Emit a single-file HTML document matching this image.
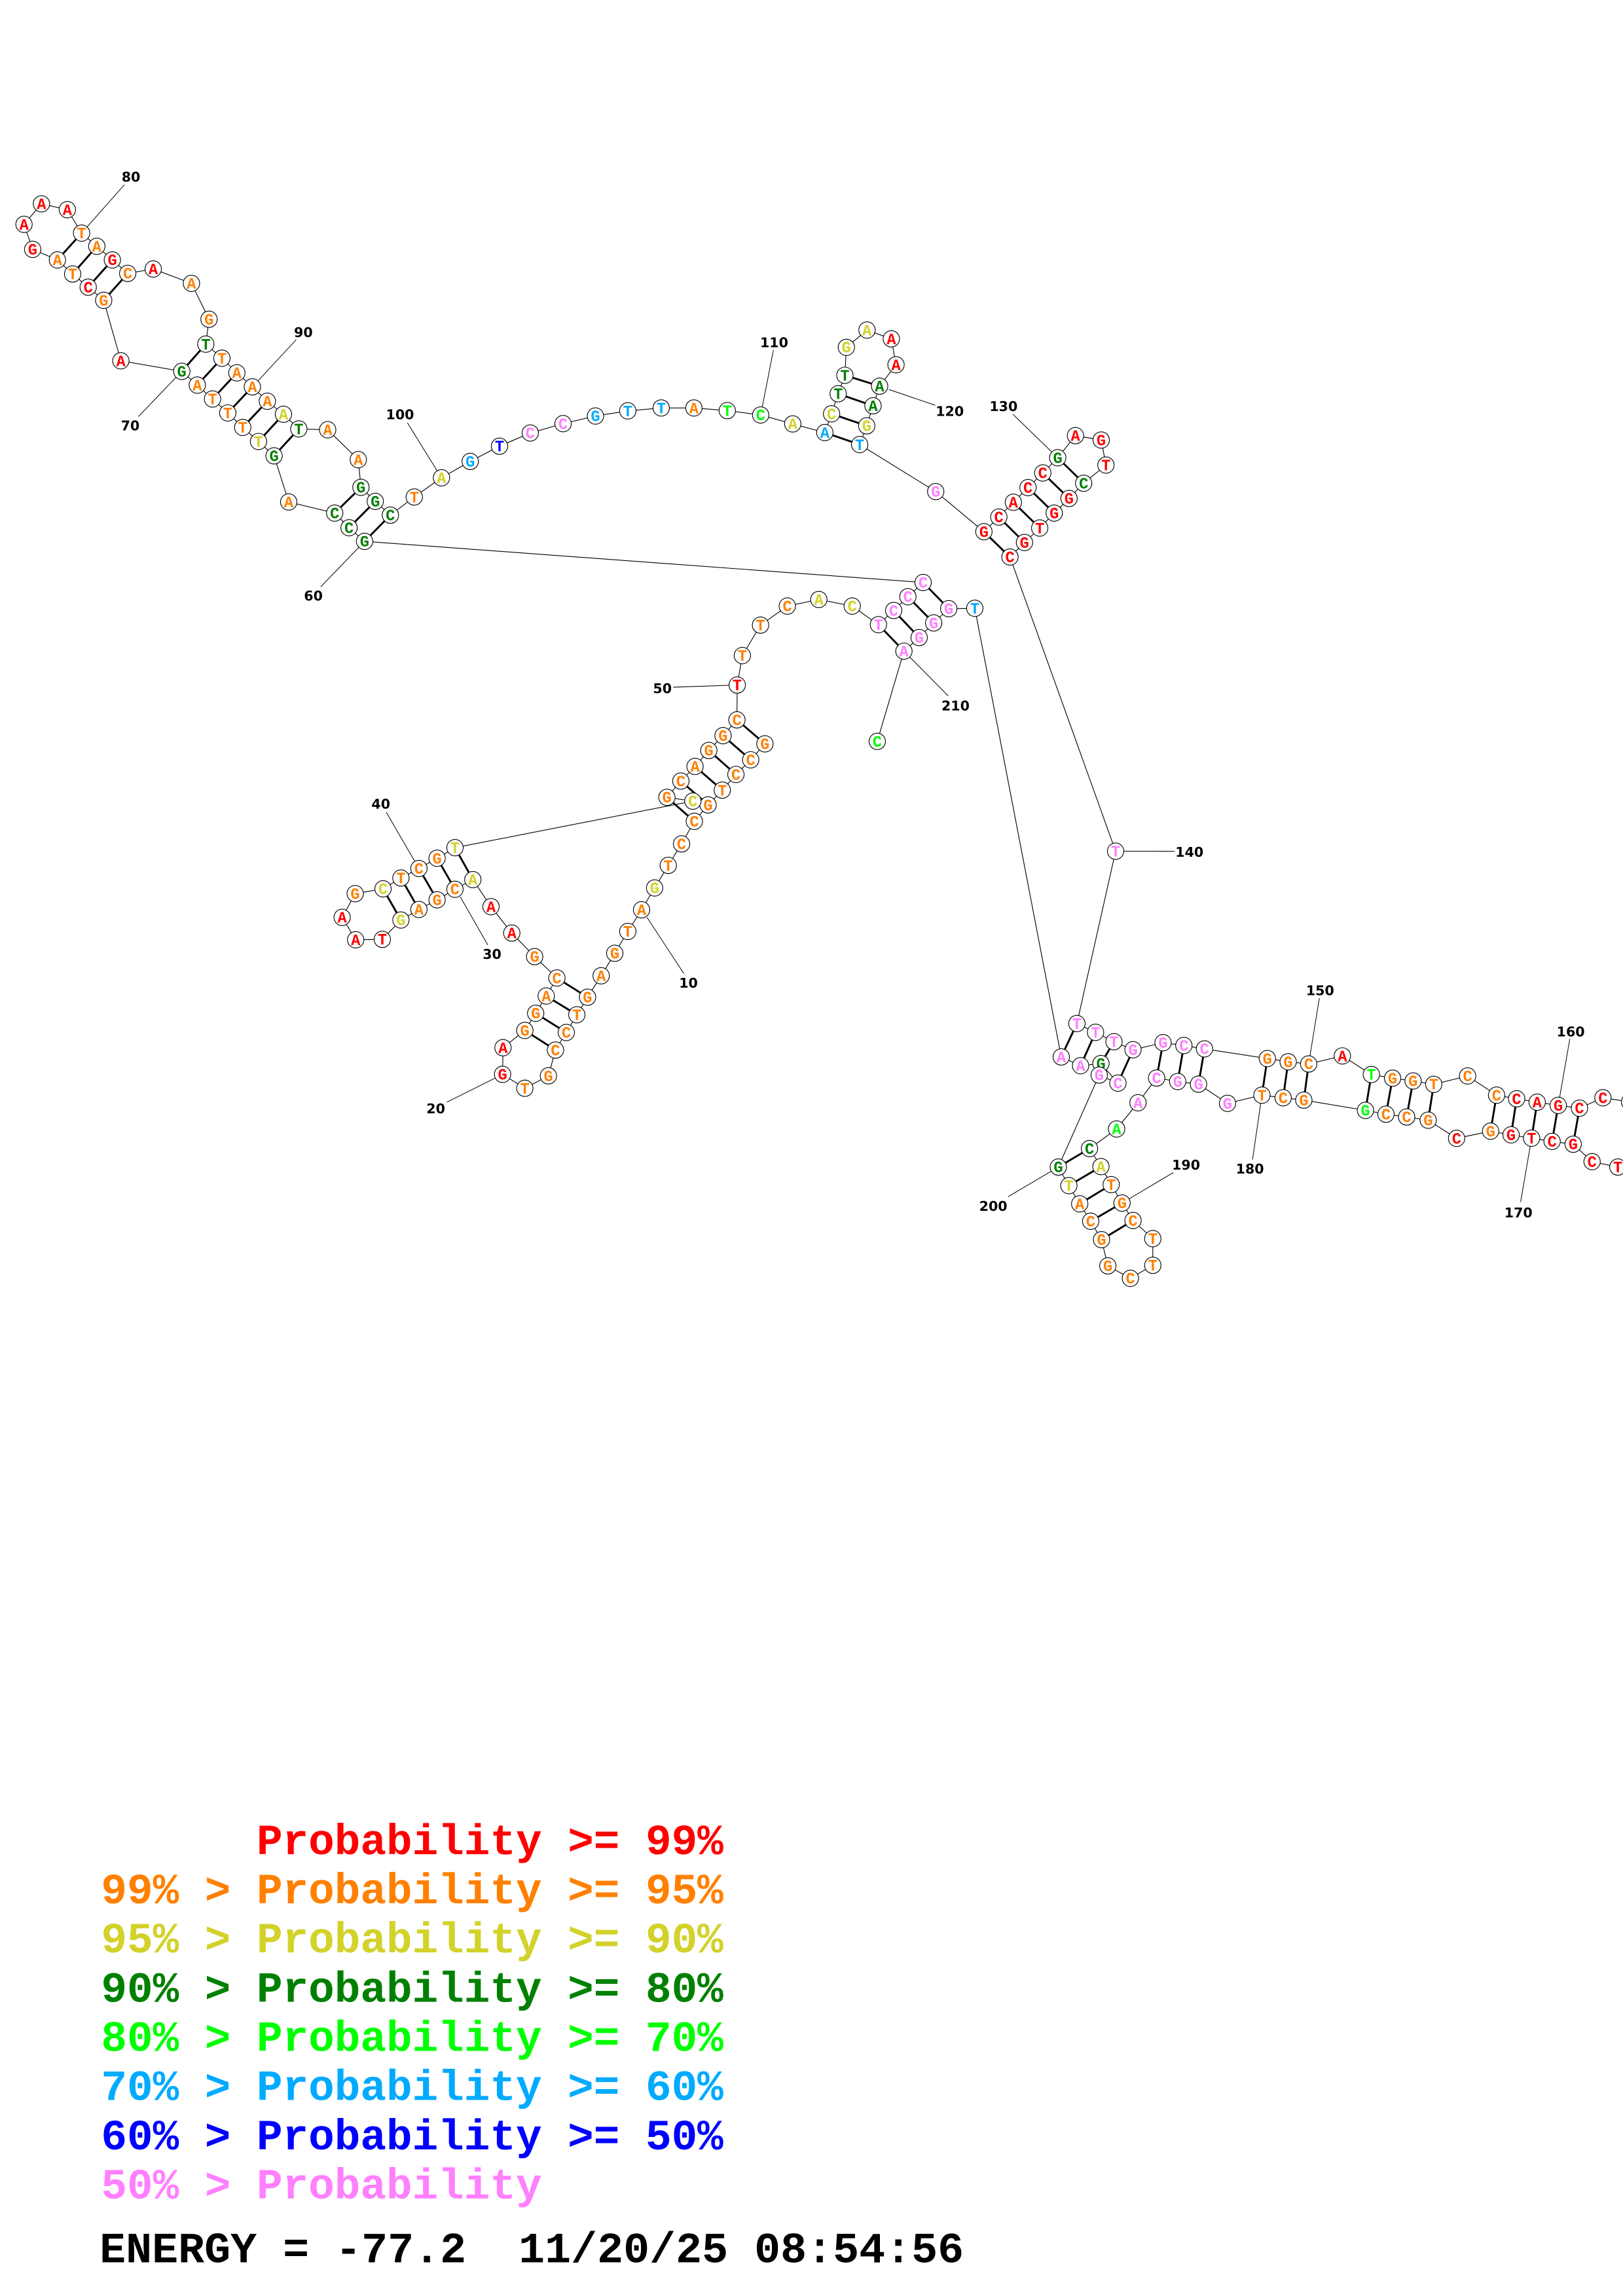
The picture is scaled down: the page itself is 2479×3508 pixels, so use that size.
<!DOCTYPE html>
<html><head><meta charset="utf-8"><style>
html,body{margin:0;padding:0;background:#fff}
svg{display:block}
.bb{fill:none;stroke:#000;stroke-width:0.5}
.pr{stroke:#000;stroke-width:1.3;fill:none}
.ll{stroke:#000;stroke-width:0.45;fill:none}
circle{fill:#fff;stroke:#000;stroke-width:0.5}
.n text{font-family:"Liberation Mono",monospace;font-weight:bold;font-size:10.6px;text-anchor:middle}
.lb text{font-family:"DejaVu Sans","Liberation Sans",sans-serif;font-weight:bold;font-size:9.2px;text-anchor:middle;fill:#000}
.lg text{font-family:"Liberation Mono",monospace;font-weight:bold;font-size:29.5px;white-space:pre}
.r{fill:#ff0000}.o{fill:#ff8000}.y{fill:#d2d22a}.g{fill:#008000}.G{fill:#00ff00}.b{fill:#00aaff}.B{fill:#0000ff}.p{fill:#ff80ff}.k{fill:#000}
</style></head><body>
<svg xmlns="http://www.w3.org/2000/svg" width="2479" height="3508" viewBox="0 0 1108 1568" preserveAspectRatio="none">
<rect x="0" y="0" width="1108" height="1568" fill="#fff"/>

<path class="ll" d="M441.7,626.5L466.8,664.8 M305.1,752.7L343.1,733.7 M314.3,612.6L333,645.3 M263.7,554.7L286,593.1 M459.6,469.3L503.3,467.8 M219,400.7L248.9,369.7 M94.5,284.5L124.1,253.6 M84.9,126.2L55.7,159.2 M202.2,232L172.3,264.2 M278.1,288.7L301.4,326.3 M528,239.1L519.3,283.4 M606.9,266L638.5,276.8 M691.4,282.8L722.1,312.6 M767.3,581.3L801.9,581.4 M900.7,681.6L893.4,726.6 M1071.7,709.5L1063.8,754.9 M1038.1,820.9L1045.6,777.3 M855.1,791.8L861.5,747.9 M801,800.8L766,821.6 M688.3,817.2L722.5,797 M647.4,475.3L617.1,444.7"/>

<polyline class="bb" points="522.2,508 512.5,518.9 502.4,528.9 493.1,539.6 483.4,549.7 474,560.9 465.3,576.3 456.2,591 446.9,606.4 438,621.3 428.6,636.1 419.7,651 410.4,666.4 401.1,681 393.8,693 386.6,705.1 379.2,717.1 374.4,734.7 358.3,743.2 343.1,733.7 343.4,715.5 358.3,703.7 365.7,692 372.9,680.2 380.2,667.9 365,653.3 349.4,637.2 335.2,619.2 322.8,600.7 310.6,607.3 298.4,614.5 286,621.1 273.7,628.3 261,641.5 242.8,641.8 233.6,626.5 242.5,610.3 261.5,607 273.7,599.6 286,593.1 298.4,586.1 310.6,578.9 473,547.1 455.3,544.5 464.8,533.4 474.5,523.4 483.9,512.5 493.6,502.4 503.1,491.6 503.3,467.8 506.8,447.7 519.2,426.9 537.5,413.9 559,409.4 581.8,413.9 599.7,426.6 610.1,416.9 619.8,407.5 630.2,397.8 248.9,369.7 238.3,360.4 228.5,350.4 197.1,342.8 187.1,311.3 176.5,301.5 165.7,291.9 155.5,282 145.1,272.5 134.7,263 124.1,253.6 82.5,246.4 70.8,205.1 60.2,196.1 49.6,187.1 39.2,177.5 22.3,170.3 16.4,153.2 28.3,139.2 46,143.2 55.7,159.2 66.1,168.2 76.7,177.5 87.2,186.7 104.6,183.7 130.7,193.5 142.7,218 140.5,235 151.5,244.6 161.7,254.6 172.3,264.2 182.5,274 193.5,282.9 204,292.9 223.7,293.5 244.6,313.9 246.4,332.8 256.2,342.4 266.5,351.8 282.8,339.4 301.4,326.3 321,315.1 341,304.7 362,295.7 384.4,289.3 406.5,284.1 428.6,280.6 451.4,278.6 473.7,278.6 496.5,280.4 519.3,283.4 541.2,289.5 563.1,295.4 567.7,282.6 572.2,268.9 576.8,256.3 577.8,237.2 591.9,225.4 608.5,231.4 611.7,249.1 600.5,263.7 596,277.1 591.7,290.8 586.9,303.6 638.8,335.7 671.7,363.1 681.9,353.1 691.8,343 701.8,333 711.9,323 722.1,312.6 734.2,297.5 751.8,300.5 755,317.6 739.8,330 729.8,340.4 719.7,350.4 709.8,360.6 699.4,370.5 689.5,380.4 761.6,581.3 735.2,699 747.9,705 760.5,711.4 773.5,716.9 794,712.1 808.2,714 822.3,716.3 865.2,722.9 879.4,725.1 893.4,726.6 916.4,721.1 936.2,733.8 950.7,736.3 964.7,738.2 978.8,740.5 1001.9,734.8 1021.7,747.9 1035.4,750.4 1049.4,752.7 1063.8,754.9 1078.3,756.8 1094.3,749.7 1112.5,752.5 1128,748 1126,800 1104.5,797 1086.9,793.3 1074,781.4 1059.6,779.5 1045.6,777.3 1031.6,775 1017.6,772.5 994.4,777.4 975,765 960.3,762.8 946.2,760.9 932.2,758.3 890.1,751.3 876,749.7 861.5,747.9 838,753.5 818.2,740.4 804,738.6 789.6,736.2 776.9,753.1 762.3,771 743.8,784.4 751.6,796.7 758.6,809 766,821.6 773.5,833.5 787,845.9 787,864.1 771.7,873 756.3,864.5 752,846.6 744.6,834 737.1,822.1 729.7,809.7 722.5,797 750.4,734.2 763.2,739.7 751.6,726.3 737.7,727.8 724.5,721.8 665.5,415.4 647.7,415.7 637.4,425.4 627.5,435.4 617.1,444.7 598.9,506.3"/>

<path class="pr" d="M522.2,508L503.1,491.6 M512.5,518.9L493.6,502.4 M502.4,528.9L483.9,512.5 M493.1,539.6L474.5,523.4 M483.4,549.7L464.8,533.4 M474,560.9L455.3,544.5 M401.1,681L380.2,667.9 M393.8,693L372.9,680.2 M386.6,705.1L365.7,692 M379.2,717.1L358.3,703.7 M322.8,600.7L310.6,578.9 M310.6,607.3L298.4,586.1 M298.4,614.5L286,593.1 M286,621.1L273.7,599.6 M273.7,628.3L261.5,607 M599.7,426.6L617.1,444.7 M610.1,416.9L627.5,435.4 M619.8,407.5L637.4,425.4 M630.2,397.8L647.7,415.7 M248.9,369.7L266.5,351.8 M238.3,360.4L256.2,342.4 M228.5,350.4L246.4,332.8 M187.1,311.3L204,292.9 M176.5,301.5L193.5,282.9 M165.7,291.9L182.5,274 M155.5,282L172.3,264.2 M145.1,272.5L161.7,254.6 M134.7,263L151.5,244.6 M124.1,253.6L140.5,235 M70.8,205.1L87.2,186.7 M60.2,196.1L76.7,177.5 M49.6,187.1L66.1,168.2 M39.2,177.5L55.7,159.2 M563.1,295.4L586.9,303.6 M567.7,282.6L591.7,290.8 M572.2,268.9L596,277.1 M576.8,256.3L600.5,263.7 M671.7,363.1L689.5,380.4 M681.9,353.1L699.4,370.5 M691.8,343L709.8,360.6 M701.8,333L719.7,350.4 M711.9,323L729.8,340.4 M722.1,312.6L739.8,330 M735.2,699L724.5,721.8 M747.9,705L737.7,727.8 M760.5,711.4L751.6,726.3 M773.5,716.9L763.2,739.7 M794,712.1L789.6,736.2 M808.2,714L804,738.6 M822.3,716.3L818.2,740.4 M865.2,722.9L861.5,747.9 M879.4,725.1L876,749.7 M893.4,726.6L890.1,751.3 M936.2,733.8L932.2,758.3 M950.7,736.3L946.2,760.9 M964.7,738.2L960.3,762.8 M978.8,740.5L975,765 M1021.7,747.9L1017.6,772.5 M1035.4,750.4L1031.6,775 M1049.4,752.7L1045.6,777.3 M1063.8,754.9L1059.6,779.5 M1078.3,756.8L1074,781.4 M743.8,784.4L722.5,797 M751.6,796.7L729.7,809.7 M758.6,809L737.1,822.1 M766,821.6L744.6,834 M773.5,833.5L752,846.6"/>

<g class="n">
<circle cx="522.2" cy="508" r="5.6"/><text x="522.2" y="511.6" class="o">G</text>
<circle cx="512.5" cy="518.9" r="5.6"/><text x="512.5" y="522.5" class="o">C</text>
<circle cx="502.4" cy="528.9" r="5.6"/><text x="502.4" y="532.5" class="o">C</text>
<circle cx="493.1" cy="539.6" r="5.6"/><text x="493.1" y="543.2" class="o">T</text>
<circle cx="483.4" cy="549.7" r="5.6"/><text x="483.4" y="553.3" class="o">G</text>
<circle cx="474" cy="560.9" r="5.6"/><text x="474" y="564.5" class="o">C</text>
<circle cx="465.3" cy="576.3" r="5.6"/><text x="465.3" y="579.9" class="o">C</text>
<circle cx="456.2" cy="591" r="5.6"/><text x="456.2" y="594.6" class="o">T</text>
<circle cx="446.9" cy="606.4" r="5.6"/><text x="446.9" y="610" class="y">G</text>
<circle cx="438" cy="621.3" r="5.6"/><text x="438" y="624.9" class="o">A</text>
<circle cx="428.6" cy="636.1" r="5.6"/><text x="428.6" y="639.7" class="o">T</text>
<circle cx="419.7" cy="651" r="5.6"/><text x="419.7" y="654.6" class="o">G</text>
<circle cx="410.4" cy="666.4" r="5.6"/><text x="410.4" y="670" class="o">A</text>
<circle cx="401.1" cy="681" r="5.6"/><text x="401.1" y="684.6" class="o">G</text>
<circle cx="393.8" cy="693" r="5.6"/><text x="393.8" y="696.6" class="o">T</text>
<circle cx="386.6" cy="705.1" r="5.6"/><text x="386.6" y="708.7" class="o">C</text>
<circle cx="379.2" cy="717.1" r="5.6"/><text x="379.2" y="720.7" class="o">C</text>
<circle cx="374.4" cy="734.7" r="5.6"/><text x="374.4" y="738.3" class="o">G</text>
<circle cx="358.3" cy="743.2" r="5.6"/><text x="358.3" y="746.8" class="o">T</text>
<circle cx="343.1" cy="733.7" r="5.6"/><text x="343.1" y="737.3" class="r">G</text>
<circle cx="343.4" cy="715.5" r="5.6"/><text x="343.4" y="719.1" class="r">A</text>
<circle cx="358.3" cy="703.7" r="5.6"/><text x="358.3" y="707.3" class="o">G</text>
<circle cx="365.7" cy="692" r="5.6"/><text x="365.7" y="695.6" class="o">G</text>
<circle cx="372.9" cy="680.2" r="5.6"/><text x="372.9" y="683.8" class="o">A</text>
<circle cx="380.2" cy="667.9" r="5.6"/><text x="380.2" y="671.5" class="o">C</text>
<circle cx="365" cy="653.3" r="5.6"/><text x="365" y="656.9" class="o">G</text>
<circle cx="349.4" cy="637.2" r="5.6"/><text x="349.4" y="640.8" class="r">A</text>
<circle cx="335.2" cy="619.2" r="5.6"/><text x="335.2" y="622.8" class="r">A</text>
<circle cx="322.8" cy="600.7" r="5.6"/><text x="322.8" y="604.3" class="y">A</text>
<circle cx="310.6" cy="607.3" r="5.6"/><text x="310.6" y="610.9" class="o">C</text>
<circle cx="298.4" cy="614.5" r="5.6"/><text x="298.4" y="618.1" class="o">G</text>
<circle cx="286" cy="621.1" r="5.6"/><text x="286" y="624.7" class="o">A</text>
<circle cx="273.7" cy="628.3" r="5.6"/><text x="273.7" y="631.9" class="y">G</text>
<circle cx="261" cy="641.5" r="5.6"/><text x="261" y="645.1" class="r">T</text>
<circle cx="242.8" cy="641.8" r="5.6"/><text x="242.8" y="645.4" class="r">A</text>
<circle cx="233.6" cy="626.5" r="5.6"/><text x="233.6" y="630.1" class="r">A</text>
<circle cx="242.5" cy="610.3" r="5.6"/><text x="242.5" y="613.9" class="o">G</text>
<circle cx="261.5" cy="607" r="5.6"/><text x="261.5" y="610.6" class="y">C</text>
<circle cx="273.7" cy="599.6" r="5.6"/><text x="273.7" y="603.2" class="o">T</text>
<circle cx="286" cy="593.1" r="5.6"/><text x="286" y="596.7" class="o">C</text>
<circle cx="298.4" cy="586.1" r="5.6"/><text x="298.4" y="589.7" class="o">G</text>
<circle cx="310.6" cy="578.9" r="5.6"/><text x="310.6" y="582.5" class="y">T</text>
<circle cx="473" cy="547.1" r="5.6"/><text x="473" y="550.7" class="y">C</text>
<circle cx="455.3" cy="544.5" r="5.6"/><text x="455.3" y="548.1" class="o">G</text>
<circle cx="464.8" cy="533.4" r="5.6"/><text x="464.8" y="537" class="o">C</text>
<circle cx="474.5" cy="523.4" r="5.6"/><text x="474.5" y="527" class="o">A</text>
<circle cx="483.9" cy="512.5" r="5.6"/><text x="483.9" y="516.1" class="o">G</text>
<circle cx="493.6" cy="502.4" r="5.6"/><text x="493.6" y="506" class="o">G</text>
<circle cx="503.1" cy="491.6" r="5.6"/><text x="503.1" y="495.2" class="o">C</text>
<circle cx="503.3" cy="467.8" r="5.6"/><text x="503.3" y="471.4" class="r">T</text>
<circle cx="506.8" cy="447.7" r="5.6"/><text x="506.8" y="451.3" class="o">T</text>
<circle cx="519.2" cy="426.9" r="5.6"/><text x="519.2" y="430.5" class="o">T</text>
<circle cx="537.5" cy="413.9" r="5.6"/><text x="537.5" y="417.5" class="o">C</text>
<circle cx="559" cy="409.4" r="5.6"/><text x="559" y="413" class="y">A</text>
<circle cx="581.8" cy="413.9" r="5.6"/><text x="581.8" y="417.5" class="y">C</text>
<circle cx="599.7" cy="426.6" r="5.6"/><text x="599.7" y="430.2" class="p">T</text>
<circle cx="610.1" cy="416.9" r="5.6"/><text x="610.1" y="420.5" class="p">C</text>
<circle cx="619.8" cy="407.5" r="5.6"/><text x="619.8" y="411.1" class="p">C</text>
<circle cx="630.2" cy="397.8" r="5.6"/><text x="630.2" y="401.4" class="p">C</text>
<circle cx="248.9" cy="369.7" r="5.6"/><text x="248.9" y="373.3" class="g">G</text>
<circle cx="238.3" cy="360.4" r="5.6"/><text x="238.3" y="364" class="g">C</text>
<circle cx="228.5" cy="350.4" r="5.6"/><text x="228.5" y="354" class="g">C</text>
<circle cx="197.1" cy="342.8" r="5.6"/><text x="197.1" y="346.4" class="o">A</text>
<circle cx="187.1" cy="311.3" r="5.6"/><text x="187.1" y="314.9" class="g">G</text>
<circle cx="176.5" cy="301.5" r="5.6"/><text x="176.5" y="305.1" class="y">T</text>
<circle cx="165.7" cy="291.9" r="5.6"/><text x="165.7" y="295.5" class="o">T</text>
<circle cx="155.5" cy="282" r="5.6"/><text x="155.5" y="285.6" class="o">T</text>
<circle cx="145.1" cy="272.5" r="5.6"/><text x="145.1" y="276.1" class="o">T</text>
<circle cx="134.7" cy="263" r="5.6"/><text x="134.7" y="266.6" class="o">A</text>
<circle cx="124.1" cy="253.6" r="5.6"/><text x="124.1" y="257.2" class="g">G</text>
<circle cx="82.5" cy="246.4" r="5.6"/><text x="82.5" y="250" class="r">A</text>
<circle cx="70.8" cy="205.1" r="5.6"/><text x="70.8" y="208.7" class="o">G</text>
<circle cx="60.2" cy="196.1" r="5.6"/><text x="60.2" y="199.7" class="r">C</text>
<circle cx="49.6" cy="187.1" r="5.6"/><text x="49.6" y="190.7" class="o">T</text>
<circle cx="39.2" cy="177.5" r="5.6"/><text x="39.2" y="181.1" class="o">A</text>
<circle cx="22.3" cy="170.3" r="5.6"/><text x="22.3" y="173.9" class="r">G</text>
<circle cx="16.4" cy="153.2" r="5.6"/><text x="16.4" y="156.8" class="r">A</text>
<circle cx="28.3" cy="139.2" r="5.6"/><text x="28.3" y="142.8" class="r">A</text>
<circle cx="46" cy="143.2" r="5.6"/><text x="46" y="146.8" class="r">A</text>
<circle cx="55.7" cy="159.2" r="5.6"/><text x="55.7" y="162.8" class="o">T</text>
<circle cx="66.1" cy="168.2" r="5.6"/><text x="66.1" y="171.8" class="o">A</text>
<circle cx="76.7" cy="177.5" r="5.6"/><text x="76.7" y="181.1" class="r">G</text>
<circle cx="87.2" cy="186.7" r="5.6"/><text x="87.2" y="190.3" class="o">C</text>
<circle cx="104.6" cy="183.7" r="5.6"/><text x="104.6" y="187.3" class="r">A</text>
<circle cx="130.7" cy="193.5" r="5.6"/><text x="130.7" y="197.1" class="o">A</text>
<circle cx="142.7" cy="218" r="5.6"/><text x="142.7" y="221.6" class="o">G</text>
<circle cx="140.5" cy="235" r="5.6"/><text x="140.5" y="238.6" class="g">T</text>
<circle cx="151.5" cy="244.6" r="5.6"/><text x="151.5" y="248.2" class="o">T</text>
<circle cx="161.7" cy="254.6" r="5.6"/><text x="161.7" y="258.2" class="o">A</text>
<circle cx="172.3" cy="264.2" r="5.6"/><text x="172.3" y="267.8" class="o">A</text>
<circle cx="182.5" cy="274" r="5.6"/><text x="182.5" y="277.6" class="o">A</text>
<circle cx="193.5" cy="282.9" r="5.6"/><text x="193.5" y="286.5" class="y">A</text>
<circle cx="204" cy="292.9" r="5.6"/><text x="204" y="296.5" class="g">T</text>
<circle cx="223.7" cy="293.5" r="5.6"/><text x="223.7" y="297.1" class="o">A</text>
<circle cx="244.6" cy="313.9" r="5.6"/><text x="244.6" y="317.5" class="o">A</text>
<circle cx="246.4" cy="332.8" r="5.6"/><text x="246.4" y="336.4" class="g">G</text>
<circle cx="256.2" cy="342.4" r="5.6"/><text x="256.2" y="346" class="g">G</text>
<circle cx="266.5" cy="351.8" r="5.6"/><text x="266.5" y="355.4" class="g">C</text>
<circle cx="282.8" cy="339.4" r="5.6"/><text x="282.8" y="343" class="o">T</text>
<circle cx="301.4" cy="326.3" r="5.6"/><text x="301.4" y="329.9" class="y">A</text>
<circle cx="321" cy="315.1" r="5.6"/><text x="321" y="318.7" class="b">G</text>
<circle cx="341" cy="304.7" r="5.6"/><text x="341" y="308.3" class="B">T</text>
<circle cx="362" cy="295.7" r="5.6"/><text x="362" y="299.3" class="p">C</text>
<circle cx="384.4" cy="289.3" r="5.6"/><text x="384.4" y="292.9" class="p">C</text>
<circle cx="406.5" cy="284.1" r="5.6"/><text x="406.5" y="287.7" class="b">G</text>
<circle cx="428.6" cy="280.6" r="5.6"/><text x="428.6" y="284.2" class="b">T</text>
<circle cx="451.4" cy="278.6" r="5.6"/><text x="451.4" y="282.2" class="b">T</text>
<circle cx="473.7" cy="278.6" r="5.6"/><text x="473.7" y="282.2" class="o">A</text>
<circle cx="496.5" cy="280.4" r="5.6"/><text x="496.5" y="284" class="G">T</text>
<circle cx="519.3" cy="283.4" r="5.6"/><text x="519.3" y="287" class="G">C</text>
<circle cx="541.2" cy="289.5" r="5.6"/><text x="541.2" y="293.1" class="y">A</text>
<circle cx="563.1" cy="295.4" r="5.6"/><text x="563.1" y="299" class="b">A</text>
<circle cx="567.7" cy="282.6" r="5.6"/><text x="567.7" y="286.2" class="y">C</text>
<circle cx="572.2" cy="268.9" r="5.6"/><text x="572.2" y="272.5" class="g">T</text>
<circle cx="576.8" cy="256.3" r="5.6"/><text x="576.8" y="259.9" class="g">T</text>
<circle cx="577.8" cy="237.2" r="5.6"/><text x="577.8" y="240.8" class="y">G</text>
<circle cx="591.9" cy="225.4" r="5.6"/><text x="591.9" y="229" class="y">A</text>
<circle cx="608.5" cy="231.4" r="5.6"/><text x="608.5" y="235" class="r">A</text>
<circle cx="611.7" cy="249.1" r="5.6"/><text x="611.7" y="252.7" class="r">A</text>
<circle cx="600.5" cy="263.7" r="5.6"/><text x="600.5" y="267.3" class="g">A</text>
<circle cx="596" cy="277.1" r="5.6"/><text x="596" y="280.7" class="g">A</text>
<circle cx="591.7" cy="290.8" r="5.6"/><text x="591.7" y="294.4" class="y">G</text>
<circle cx="586.9" cy="303.6" r="5.6"/><text x="586.9" y="307.2" class="b">T</text>
<circle cx="638.8" cy="335.7" r="5.6"/><text x="638.8" y="339.3" class="p">G</text>
<circle cx="671.7" cy="363.1" r="5.6"/><text x="671.7" y="366.7" class="r">G</text>
<circle cx="681.9" cy="353.1" r="5.6"/><text x="681.9" y="356.7" class="r">C</text>
<circle cx="691.8" cy="343" r="5.6"/><text x="691.8" y="346.6" class="r">A</text>
<circle cx="701.8" cy="333" r="5.6"/><text x="701.8" y="336.6" class="r">C</text>
<circle cx="711.9" cy="323" r="5.6"/><text x="711.9" y="326.6" class="r">C</text>
<circle cx="722.1" cy="312.6" r="5.6"/><text x="722.1" y="316.2" class="g">G</text>
<circle cx="734.2" cy="297.5" r="5.6"/><text x="734.2" y="301.1" class="r">A</text>
<circle cx="751.8" cy="300.5" r="5.6"/><text x="751.8" y="304.1" class="r">G</text>
<circle cx="755" cy="317.6" r="5.6"/><text x="755" y="321.2" class="r">T</text>
<circle cx="739.8" cy="330" r="5.6"/><text x="739.8" y="333.6" class="g">C</text>
<circle cx="729.8" cy="340.4" r="5.6"/><text x="729.8" y="344" class="r">G</text>
<circle cx="719.7" cy="350.4" r="5.6"/><text x="719.7" y="354" class="r">G</text>
<circle cx="709.8" cy="360.6" r="5.6"/><text x="709.8" y="364.2" class="r">T</text>
<circle cx="699.4" cy="370.5" r="5.6"/><text x="699.4" y="374.1" class="r">G</text>
<circle cx="689.5" cy="380.4" r="5.6"/><text x="689.5" y="384" class="r">C</text>
<circle cx="761.6" cy="581.3" r="5.6"/><text x="761.6" y="584.9" class="p">T</text>
<circle cx="735.2" cy="699" r="5.6"/><text x="735.2" y="702.6" class="p">T</text>
<circle cx="747.9" cy="705" r="5.6"/><text x="747.9" y="708.6" class="p">T</text>
<circle cx="760.5" cy="711.4" r="5.6"/><text x="760.5" y="715" class="p">T</text>
<circle cx="773.5" cy="716.9" r="5.6"/><text x="773.5" y="720.5" class="p">G</text>
<circle cx="794" cy="712.1" r="5.6"/><text x="794" y="715.7" class="p">G</text>
<circle cx="808.2" cy="714" r="5.6"/><text x="808.2" y="717.6" class="p">C</text>
<circle cx="822.3" cy="716.3" r="5.6"/><text x="822.3" y="719.9" class="p">C</text>
<circle cx="865.2" cy="722.9" r="5.6"/><text x="865.2" y="726.5" class="o">G</text>
<circle cx="879.4" cy="725.1" r="5.6"/><text x="879.4" y="728.7" class="o">G</text>
<circle cx="893.4" cy="726.6" r="5.6"/><text x="893.4" y="730.2" class="o">C</text>
<circle cx="916.4" cy="721.1" r="5.6"/><text x="916.4" y="724.7" class="r">A</text>
<circle cx="936.2" cy="733.8" r="5.6"/><text x="936.2" y="737.4" class="G">T</text>
<circle cx="950.7" cy="736.3" r="5.6"/><text x="950.7" y="739.9" class="o">G</text>
<circle cx="964.7" cy="738.2" r="5.6"/><text x="964.7" y="741.8" class="o">G</text>
<circle cx="978.8" cy="740.5" r="5.6"/><text x="978.8" y="744.1" class="o">T</text>
<circle cx="1001.9" cy="734.8" r="5.6"/><text x="1001.9" y="738.4" class="o">C</text>
<circle cx="1021.7" cy="747.9" r="5.6"/><text x="1021.7" y="751.5" class="o">C</text>
<circle cx="1035.4" cy="750.4" r="5.6"/><text x="1035.4" y="754" class="r">C</text>
<circle cx="1049.4" cy="752.7" r="5.6"/><text x="1049.4" y="756.3" class="r">A</text>
<circle cx="1063.8" cy="754.9" r="5.6"/><text x="1063.8" y="758.5" class="r">G</text>
<circle cx="1078.3" cy="756.8" r="5.6"/><text x="1078.3" y="760.4" class="r">C</text>
<circle cx="1094.3" cy="749.7" r="5.6"/><text x="1094.3" y="753.3" class="r">C</text>
<circle cx="1112.5" cy="752.5" r="5.6"/><text x="1112.5" y="756.1" class="r">C</text>
<circle cx="1104.5" cy="797" r="5.6"/><text x="1104.5" y="800.6" class="r">T</text>
<circle cx="1086.9" cy="793.3" r="5.6"/><text x="1086.9" y="796.9" class="r">C</text>
<circle cx="1074" cy="781.4" r="5.6"/><text x="1074" y="785" class="r">G</text>
<circle cx="1059.6" cy="779.5" r="5.6"/><text x="1059.6" y="783.1" class="r">C</text>
<circle cx="1045.6" cy="777.3" r="5.6"/><text x="1045.6" y="780.9" class="r">T</text>
<circle cx="1031.6" cy="775" r="5.6"/><text x="1031.6" y="778.6" class="r">G</text>
<circle cx="1017.6" cy="772.5" r="5.6"/><text x="1017.6" y="776.1" class="o">G</text>
<circle cx="994.4" cy="777.4" r="5.6"/><text x="994.4" y="781" class="r">C</text>
<circle cx="975" cy="765" r="5.6"/><text x="975" y="768.6" class="o">G</text>
<circle cx="960.3" cy="762.8" r="5.6"/><text x="960.3" y="766.4" class="o">C</text>
<circle cx="946.2" cy="760.9" r="5.6"/><text x="946.2" y="764.5" class="o">C</text>
<circle cx="932.2" cy="758.3" r="5.6"/><text x="932.2" y="761.9" class="G">G</text>
<circle cx="890.1" cy="751.3" r="5.6"/><text x="890.1" y="754.9" class="o">G</text>
<circle cx="876" cy="749.7" r="5.6"/><text x="876" y="753.3" class="o">C</text>
<circle cx="861.5" cy="747.9" r="5.6"/><text x="861.5" y="751.5" class="o">T</text>
<circle cx="838" cy="753.5" r="5.6"/><text x="838" y="757.1" class="p">G</text>
<circle cx="818.2" cy="740.4" r="5.6"/><text x="818.2" y="744" class="p">G</text>
<circle cx="804" cy="738.6" r="5.6"/><text x="804" y="742.2" class="p">G</text>
<circle cx="789.6" cy="736.2" r="5.6"/><text x="789.6" y="739.8" class="p">C</text>
<circle cx="776.9" cy="753.1" r="5.6"/><text x="776.9" y="756.7" class="p">A</text>
<circle cx="762.3" cy="771" r="5.6"/><text x="762.3" y="774.6" class="G">A</text>
<circle cx="743.8" cy="784.4" r="5.6"/><text x="743.8" y="788" class="g">C</text>
<circle cx="751.6" cy="796.7" r="5.6"/><text x="751.6" y="800.3" class="y">A</text>
<circle cx="758.6" cy="809" r="5.6"/><text x="758.6" y="812.6" class="o">T</text>
<circle cx="766" cy="821.6" r="5.6"/><text x="766" y="825.2" class="o">G</text>
<circle cx="773.5" cy="833.5" r="5.6"/><text x="773.5" y="837.1" class="o">C</text>
<circle cx="787" cy="845.9" r="5.6"/><text x="787" y="849.5" class="o">T</text>
<circle cx="787" cy="864.1" r="5.6"/><text x="787" y="867.7" class="o">T</text>
<circle cx="771.7" cy="873" r="5.6"/><text x="771.7" y="876.6" class="o">C</text>
<circle cx="756.3" cy="864.5" r="5.6"/><text x="756.3" y="868.1" class="o">G</text>
<circle cx="752" cy="846.6" r="5.6"/><text x="752" y="850.2" class="o">G</text>
<circle cx="744.6" cy="834" r="5.6"/><text x="744.6" y="837.6" class="o">C</text>
<circle cx="737.1" cy="822.1" r="5.6"/><text x="737.1" y="825.7" class="o">A</text>
<circle cx="729.7" cy="809.7" r="5.6"/><text x="729.7" y="813.3" class="y">T</text>
<circle cx="722.5" cy="797" r="5.6"/><text x="722.5" y="800.6" class="g">G</text>
<circle cx="751.6" cy="726.3" r="5.6"/><text x="751.6" y="729.9" class="g">G</text>
<circle cx="750.4" cy="734.2" r="5.6"/><text x="750.4" y="737.8" class="p">G</text>
<circle cx="763.2" cy="739.7" r="5.6"/><text x="763.2" y="743.3" class="p">C</text>
<circle cx="737.7" cy="727.8" r="5.6"/><text x="737.7" y="731.4" class="p">A</text>
<circle cx="724.5" cy="721.8" r="5.6"/><text x="724.5" y="725.4" class="p">A</text>
<circle cx="665.5" cy="415.4" r="5.6"/><text x="665.5" y="419" class="b">T</text>
<circle cx="647.7" cy="415.7" r="5.6"/><text x="647.7" y="419.3" class="p">G</text>
<circle cx="637.4" cy="425.4" r="5.6"/><text x="637.4" y="429" class="p">G</text>
<circle cx="627.5" cy="435.4" r="5.6"/><text x="627.5" y="439" class="p">G</text>
<circle cx="617.1" cy="444.7" r="5.6"/><text x="617.1" y="448.3" class="p">A</text>
<circle cx="598.9" cy="506.3" r="5.6"/><text x="598.9" y="509.9" class="G">C</text>
</g>

<g class="lb">
<text x="470" y="674.5">10</text>
<text x="297.5" y="760.3">20</text>
<text x="335.9" y="654.8">30</text>
<text x="260" y="552.2">40</text>
<text x="452.2" y="473.3">50</text>
<text x="213.9" y="410">60</text>
<text x="88.9" y="293.8">70</text>
<text x="89.4" y="124.1">80</text>
<text x="207.1" y="230.3">90</text>
<text x="273.1" y="286.4">100</text>
<text x="528.5" y="237.2">110</text>
<text x="648.4" y="284.1">120</text>
<text x="685.1" y="280.7">130</text>
<text x="812" y="585">140</text>
<text x="901.2" y="679.7">150</text>
<text x="1072.3" y="707.7">160</text>
<text x="1036.6" y="831.3">170</text>
<text x="853.3" y="801.5">180</text>
<text x="809.7" y="798.8">190</text>
<text x="678.1" y="826.9">200</text>
<text x="652.3" y="485.3">210</text>
</g>

<g class="lg">
<text x="175.2" y="1266.2" class="r" textLength="318.6" lengthAdjust="spacingAndGlyphs">Probability &gt;= 99%</text>
<text x="69" y="1299.8" class="o" textLength="424.8" lengthAdjust="spacingAndGlyphs">99% &gt; Probability &gt;= 95%</text>
<text x="69" y="1333.4" class="y" textLength="424.8" lengthAdjust="spacingAndGlyphs">95% &gt; Probability &gt;= 90%</text>
<text x="69" y="1367" class="g" textLength="424.8" lengthAdjust="spacingAndGlyphs">90% &gt; Probability &gt;= 80%</text>
<text x="69" y="1400.6" class="G" textLength="424.8" lengthAdjust="spacingAndGlyphs">80% &gt; Probability &gt;= 70%</text>
<text x="69" y="1434.2" class="b" textLength="424.8" lengthAdjust="spacingAndGlyphs">70% &gt; Probability &gt;= 60%</text>
<text x="69" y="1467.8" class="B" textLength="424.8" lengthAdjust="spacingAndGlyphs">60% &gt; Probability &gt;= 50%</text>
<text x="69" y="1501.4" class="p" textLength="300.9" lengthAdjust="spacingAndGlyphs">50% &gt; Probability</text>
<text x="68" y="1544.9" class="k" textLength="590" lengthAdjust="spacingAndGlyphs">ENERGY = -77.2  11/20/25 08:54:56</text>
</g>
</svg>
</body></html>
